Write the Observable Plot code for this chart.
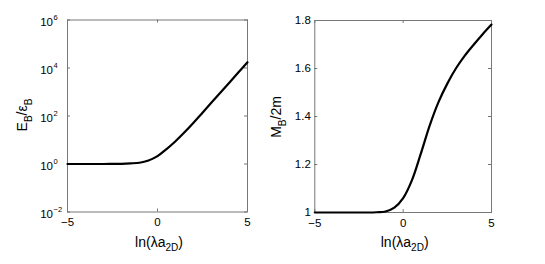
<!DOCTYPE html>
<html><head><meta charset="utf-8">
<script src="https://cdn.jsdelivr.net/npm/d3@7"></script>
<script src="https://cdn.jsdelivr.net/npm/@observablehq/plot@0.6"></script>
<style>
body{margin:0;background:#fff;}
#wrap{position:relative;width:545px;height:264px;font-family:"Liberation Sans",Arial,sans-serif;}
#wrap svg{position:absolute;top:0;overflow:visible;}
</style></head><body><div id="wrap"></div>
<script>
// ln(lambda a_2D) sample positions
const lnLambdaA = [-5,-4,-3,-2.5,-2,-1.5,-1,-0.5,0,0.5,1,1.5,2,2.5,3,3.5,4,4.5,5];
// E_B / epsilon_B (left panel, log scale)
const energyRatio = [1.0,1.0,1.0,1.005,1.02,1.06,1.13,1.41,2.14,4.17,8.9,20.9,52.5,138,363,955,2512,6607,17378];
// M_B / 2m (right panel)
const massRatio = [1.0,1.0,1.0,1.0,1.0,1.001,1.004,1.02,1.06,1.135,1.245,1.362,1.46,1.537,1.602,1.655,1.70,1.743,1.783];
const xTicks = [-5,0,5];
const yTicksLeft = [1e-2,1,1e2,1e4,1e6];
const yExponentsLeft = ["\u22122","0","2","4","6"];
const yTicksRight = [1,1.2,1.4,1.6,1.8];
const yTickLabelsRight = ["1","1.2","1.4","1.6","1.8"];

const frameColor = "#777";
const font = "Liberation Sans, Arial, sans-serif";
const wrap = document.getElementById("wrap");

function panel({left, width, mL, mR, mT, mB, yType, yDomain, yTicks, values, yAxisMarks}) {
  const height = 264;
  const innerW = width - mL - mR, innerH = height - mT - mB;
  const rows = lnLambdaA.map((x, i) => ({x, y: values[i]}));
  const svg = Plot.plot({
    width, height, marginLeft: mL, marginRight: mR, marginTop: mT, marginBottom: mB,
    style: {fontFamily: font, fontSize: "11.5px", color: "black", background: "transparent"},
    x: {domain: [-5, 5], label: null, axis: null},
    y: {type: yType, domain: yDomain, label: null, axis: null},
    marks: [
      Plot.frame({stroke: frameColor, strokeWidth: 1}),
      Plot.tickY(yTicks, {y: d => d, stroke: frameColor, insetRight: innerW - 3}),
      Plot.tickY(yTicks, {y: d => d, stroke: frameColor, insetLeft: innerW - 3}),
      Plot.tickX(xTicks, {x: d => d, stroke: frameColor, insetTop: innerH - 3}),
      Plot.tickX(xTicks, {x: d => d, stroke: frameColor, insetBottom: innerH - 3}),
      Plot.axisX({ticks: xTicks, tickSize: 0, tickPadding: 6, fontSize: 11.5, label: null}),
      ...yAxisMarks,
      Plot.line(rows, {x: "x", y: "y", stroke: "black", strokeWidth: 2.2, curve: "catmull-rom"})
    ]
  });
  svg.style.left = left + "px";
  wrap.appendChild(svg);
  return {svg: d3.select(svg), innerW, mL, mT, innerH};
}

// Left panel
const L = panel({
  left: 0, width: 270, mL: 67, mR: 23, mT: 19.5, mB: 52.5,
  yType: "log", yDomain: [1e-2, 1e6], yTicks: yTicksLeft, values: energyRatio,
  yAxisMarks: [
    Plot.text(yTicksLeft, {x: () => -5, y: d => d, text: () => "10", textAnchor: "end", dx: -14.5, dy: 2, fontSize: 11.5}),
    Plot.text(yTicksLeft, {x: () => -5, y: d => d, text: (d, i) => yExponentsLeft[i], textAnchor: "start", dx: -14, dy: -2.5, fontSize: 7.5})
  ]
});
// Right panel
const R = panel({
  left: 270, width: 275, mL: 44.3, mR: 54, mT: 20, mB: 52,
  yType: "linear", yDomain: [1, 1.8], yTicks: yTicksRight, values: massRatio,
  yAxisMarks: [
    Plot.axisY({ticks: yTicksRight, tickSize: 0, tickPadding: 4, fontSize: 11.5, label: null, tickFormat: (d, i) => yTickLabelsRight[i]})
  ]
});

function xLabel(P) {
  const t = P.svg.append("text")
    .attr("x", P.mL + P.innerW / 2 + 2).attr("y", 246.5)
    .attr("text-anchor", "middle").attr("font-family", font).attr("font-size", "14px").attr("fill", "black");
  t.append("tspan").text("ln(\u03bba");
  t.append("tspan").text("2D").attr("font-size", "10px").attr("dy", "4.5");
  t.append("tspan").text(")").attr("dy", "-4.5");
}
xLabel(L); xLabel(R);

function yLabel(P, x, y, main1, sub1, main2, sub2) {
  const t = P.svg.append("text")
    .attr("transform", `translate(${x},${y}) rotate(-90)`)
    .attr("text-anchor", "middle").attr("font-family", font).attr("font-size", "14px").attr("fill", "black");
  t.append("tspan").text(main1);
  t.append("tspan").text(sub1).attr("font-size", "10px").attr("dy", "4.5");
  t.append("tspan").text(main2).attr("dy", "-4.5");
  if (sub2) t.append("tspan").text(sub2).attr("font-size", "10px").attr("dy", "4.5");
}
yLabel(L, 27, 115, "E", "B", "/\u03b5", "B");
yLabel(R, 281 - 270, 117, "M", "B", "/2m", null);
</script></body></html>
